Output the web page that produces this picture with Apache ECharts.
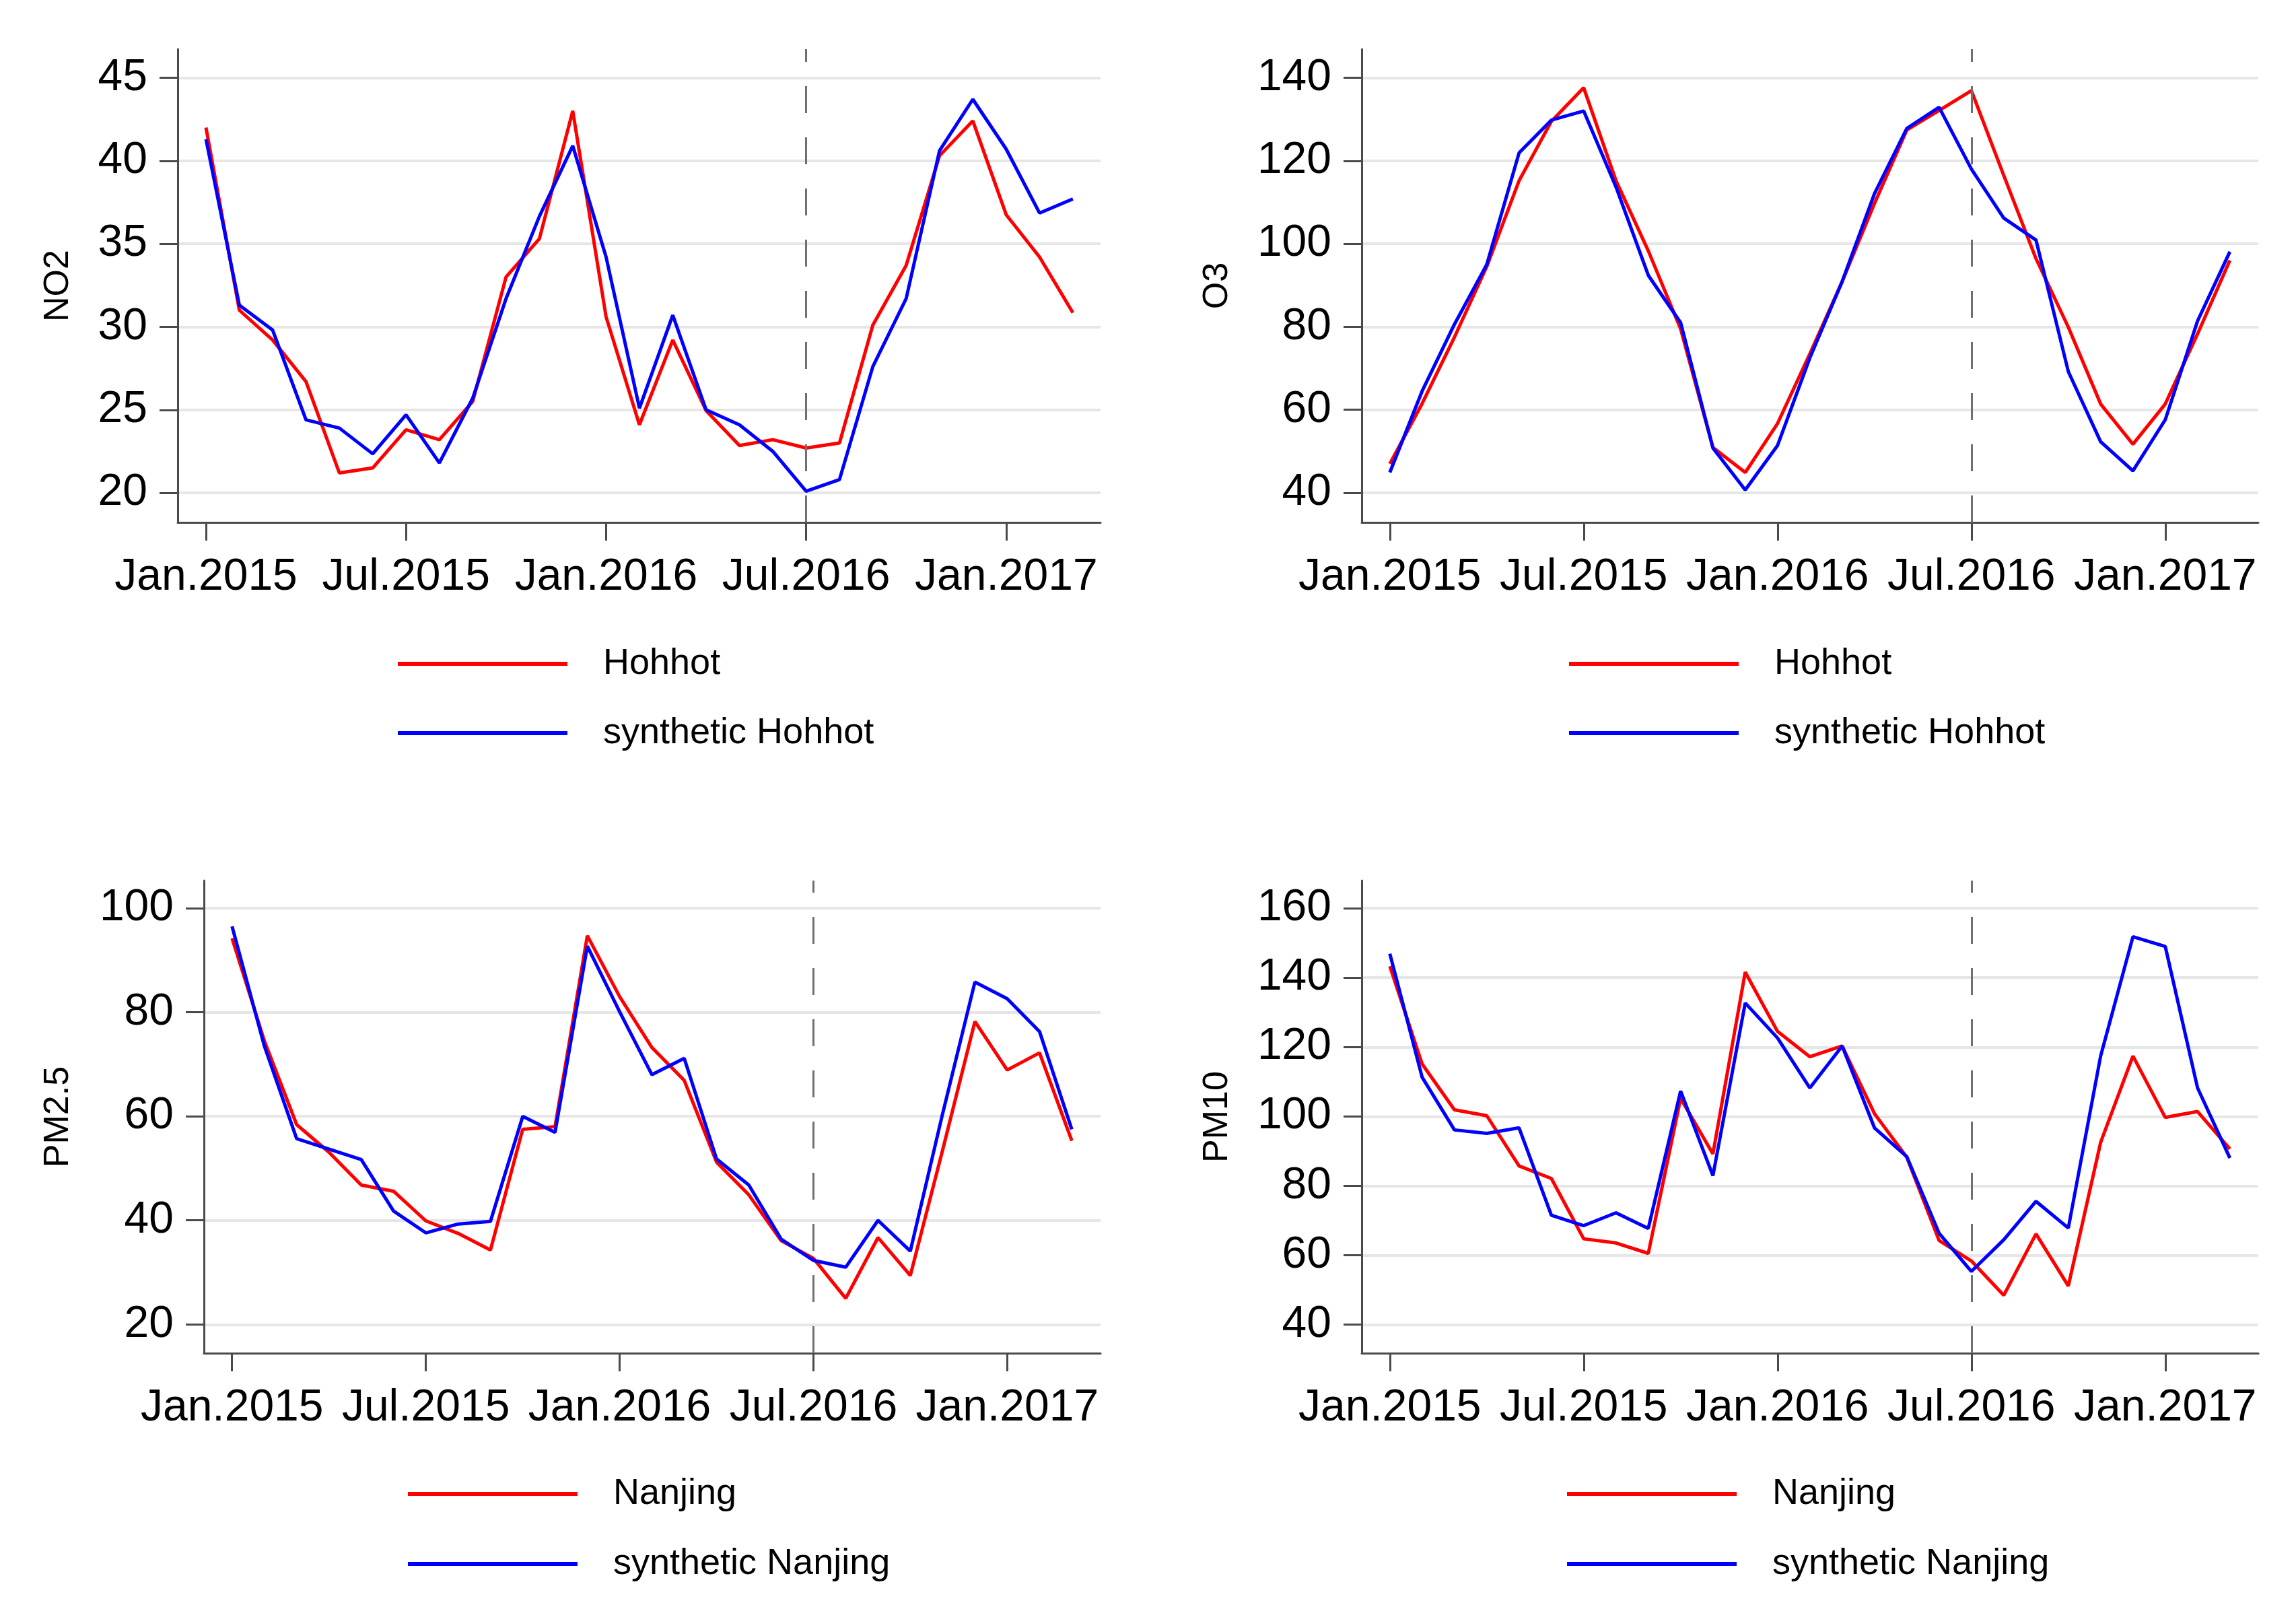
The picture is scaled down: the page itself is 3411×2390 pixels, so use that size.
<!DOCTYPE html>
<html>
<head>
<meta charset="utf-8">
<script src="https://cdn.jsdelivr.net/npm/echarts@6/dist/echarts.min.js"></script>
<style>
html,body{margin:0;padding:0;background:#fff;}
#chart{width:3411px;height:2390px;}
</style>
</head>
<body>
<div id="chart"></div>
<script>
// ---- data (monthly, Jan.2015 .. Mar.2017) ----
const months = ['Jan.2015','Feb.2015','Mar.2015','Apr.2015','May.2015','Jun.2015','Jul.2015','Aug.2015','Sep.2015','Oct.2015','Nov.2015','Dec.2015',
                'Jan.2016','Feb.2016','Mar.2016','Apr.2016','May.2016','Jun.2016','Jul.2016','Aug.2016','Sep.2016','Oct.2016','Nov.2016','Dec.2016',
                'Jan.2017','Feb.2017','Mar.2017'];
const xTickPos = [0, 6, 12, 18, 24];
const xTickLabels = ['Jan.2015','Jul.2015','Jan.2016','Jul.2016','Jan.2017'];
const treatIndex = 18; // Jul.2016

const no2Hohhot    = [42.0,31.0,29.2,26.7,21.2,21.5,23.8,23.2,25.5,33.0,35.3,43.0,30.6,24.1,29.2,24.95,22.85,23.2,22.7,23.0,30.1,33.7,40.3,42.4,36.75,34.2,30.85];
const no2Synthetic = [41.3,31.3,29.8,24.4,23.9,22.35,24.7,21.8,25.7,31.7,36.65,40.9,34.2,25.1,30.7,25.0,24.1,22.5,20.1,20.8,27.6,31.7,40.6,43.7,40.7,36.85,37.7];

const o3Hohhot     = [47.0,61.5,77.5,94.5,115.2,129.5,137.6,115.2,98.3,79.5,50.9,44.9,56.7,73.5,90.9,109.7,127.4,132.1,136.9,116.5,96.4,79.9,61.4,51.7,61.4,78.3,96.0];
const o3Synthetic  = [44.9,64.5,80.6,95.0,121.9,129.8,132.0,113.7,92.4,81.0,50.8,40.7,51.4,72.5,90.9,112.1,127.8,132.9,118.0,106.2,100.9,69.2,52.3,45.3,57.6,81.4,98.1];

const pm25Nanjing   = [94.2,74.5,58.4,53.1,46.8,45.6,39.9,37.5,34.3,57.5,58.0,94.7,83.0,73.2,66.9,51.2,44.9,36.1,32.7,25.0,36.7,29.4,53.5,78.2,68.9,72.2,55.3];
const pm25Synthetic = [96.5,73.5,55.7,53.7,51.7,41.8,37.6,39.3,39.8,60.0,56.9,92.7,80.1,68.0,71.15,51.8,46.8,36.4,32.3,31.0,40.0,34.1,60.5,85.8,82.6,76.3,57.5];

const pm10Nanjing   = [143.3,115.1,101.9,100.2,85.7,82.1,64.7,63.5,60.5,105.2,89.2,141.6,124.5,117.2,120.3,100.8,88.2,64.2,58.3,48.4,66.1,51.1,92.5,117.4,99.7,101.4,90.6];
const pm10Synthetic = [146.9,111.3,96.1,95.1,96.7,71.5,68.5,72.2,67.7,107.3,82.9,132.7,122.6,108.2,120.3,96.7,88.4,66.3,55.3,64.4,75.5,67.8,117.4,151.8,149.0,108.2,88.0];

const no2Ticks  = [20,25,30,35,40,45];
const o3Ticks   = [40,60,80,100,120,140];
const pm25Ticks = [20,40,60,80,100];
const pm10Ticks = [40,60,80,100,120,140,160];

// ---- styling / layout ----
const FONT = 'Liberation Sans, Arial, sans-serif';
const AX = '#4a4a4a';
const RED = '#ff0000', BLUE = '#0000ff';

const panels = [
  {grid:{left:264, top:73, width:1371, height:703}, ymin:18.22, ymax:46.72, xmin:-0.848, xmax:26.83,
   ticks:no2Ticks, yname:'NO2', nameGap:151, a:no2Hohhot, b:no2Synthetic, na:'Hohhot', nb:'synthetic Hohhot',
   legend:{left:591, top:959, gap:49}},
  {grid:{left:2023, top:73, width:1332, height:703}, ymin:32.86, ymax:146.9, xmin:-0.87, xmax:26.88,
   ticks:o3Ticks, yname:'O3', nameGap:188, a:o3Hohhot, b:o3Synthetic, na:'Hohhot', nb:'synthetic Hohhot',
   legend:{left:2331, top:959, gap:49}},
  {grid:{left:303, top:1308, width:1332, height:702}, ymin:14.48, ymax:105.3, xmin:-0.87, xmax:26.89,
   ticks:pm25Ticks, yname:'PM2.5', nameGap:190, a:pm25Nanjing, b:pm25Synthetic, na:'Nanjing', nb:'synthetic Nanjing',
   legend:{left:606, top:2192, gap:50}},
  {grid:{left:2023, top:1308, width:1332, height:702}, ymin:31.72, ymax:168.0, xmin:-0.87, xmax:26.88,
   ticks:pm10Ticks, yname:'PM10', nameGap:188, a:pm10Nanjing, b:pm10Synthetic, na:'Nanjing', nb:'synthetic Nanjing',
   legend:{left:2328, top:2192, gap:50}}
];

const toPairs = arr => arr.map((v, i) => [i, v]);

const option = {
  backgroundColor: '#ffffff',
  animation: false,
  textStyle: {fontFamily: FONT},
  grid: [], xAxis: [], yAxis: [], series: [], legend: []
};

panels.forEach((p, i) => {
  option.grid.push(Object.assign({containLabel:false}, p.grid));
  option.xAxis.push({
    gridIndex: i, type: 'value', min: p.xmin, max: p.xmax,
    axisLine: {show: true, onZero: false, lineStyle: {color: AX, width: 3}},
    axisTick: {show: true, length: 27, lineStyle: {color: AX, width: 3}, customValues: xTickPos},
    axisLabel: {show: true, customValues: xTickPos, fontSize: 66, color: '#000', fontFamily: FONT, margin: 49,
                formatter: v => xTickLabels[xTickPos.indexOf(Math.round(v))] || ''},
    splitLine: {show: false}
  });
  option.yAxis.push({
    gridIndex: i, type: 'value', min: p.ymin, max: p.ymax,
    name: p.yname, nameLocation: 'middle', nameRotate: 90, nameGap: p.nameGap,
    nameTextStyle: {fontSize: 52, color: '#000', fontFamily: FONT},
    axisLine: {show: true, onZero: false, lineStyle: {color: AX, width: 3}},
    axisTick: {show: true, length: 27, lineStyle: {color: AX, width: 3}, customValues: p.ticks},
    axisLabel: {show: true, customValues: p.ticks, fontSize: 66, color: '#000', fontFamily: FONT, margin: 45},
    splitLine: {show: true, lineStyle: {color: '#e6e6e6', width: 4}}
  });
  option.series.push({
    type: 'line', name: p.na, xAxisIndex: i, yAxisIndex: i, data: toPairs(p.a),
    symbol: 'none', showSymbol: false, color: RED, lineStyle: {color: RED, width: 5}, z: 3,
    markLine: {silent: true, symbol: ['none','none'], label: {show: false},
      lineStyle: {color: '#707070', width: 3, type: [40, 36]},
      emphasis: {disabled: true},
      data: [{xAxis: treatIndex}]}
  });
  option.series.push({
    type: 'line', name: p.nb, xAxisIndex: i, yAxisIndex: i, data: toPairs(p.b),
    symbol: 'none', showSymbol: false, color: BLUE, lineStyle: {color: BLUE, width: 5}, z: 4
  });
  option.legend.push({
    orient: 'vertical', left: p.legend.left, top: p.legend.top, padding: 0,
    itemWidth: 252, itemHeight: 6, itemGap: p.legend.gap, selectedMode: false,
    icon: 'rect',
    data: [p.na, p.nb],
    textStyle: {fontSize: 54, lineHeight: 54, color: '#000', fontFamily: FONT, padding: [0, 0, 0, 48]}
  });
});

const chart = echarts.init(document.getElementById('chart'), null, {renderer: 'canvas'});
chart.setOption(option);
</script>
</body>
</html>
